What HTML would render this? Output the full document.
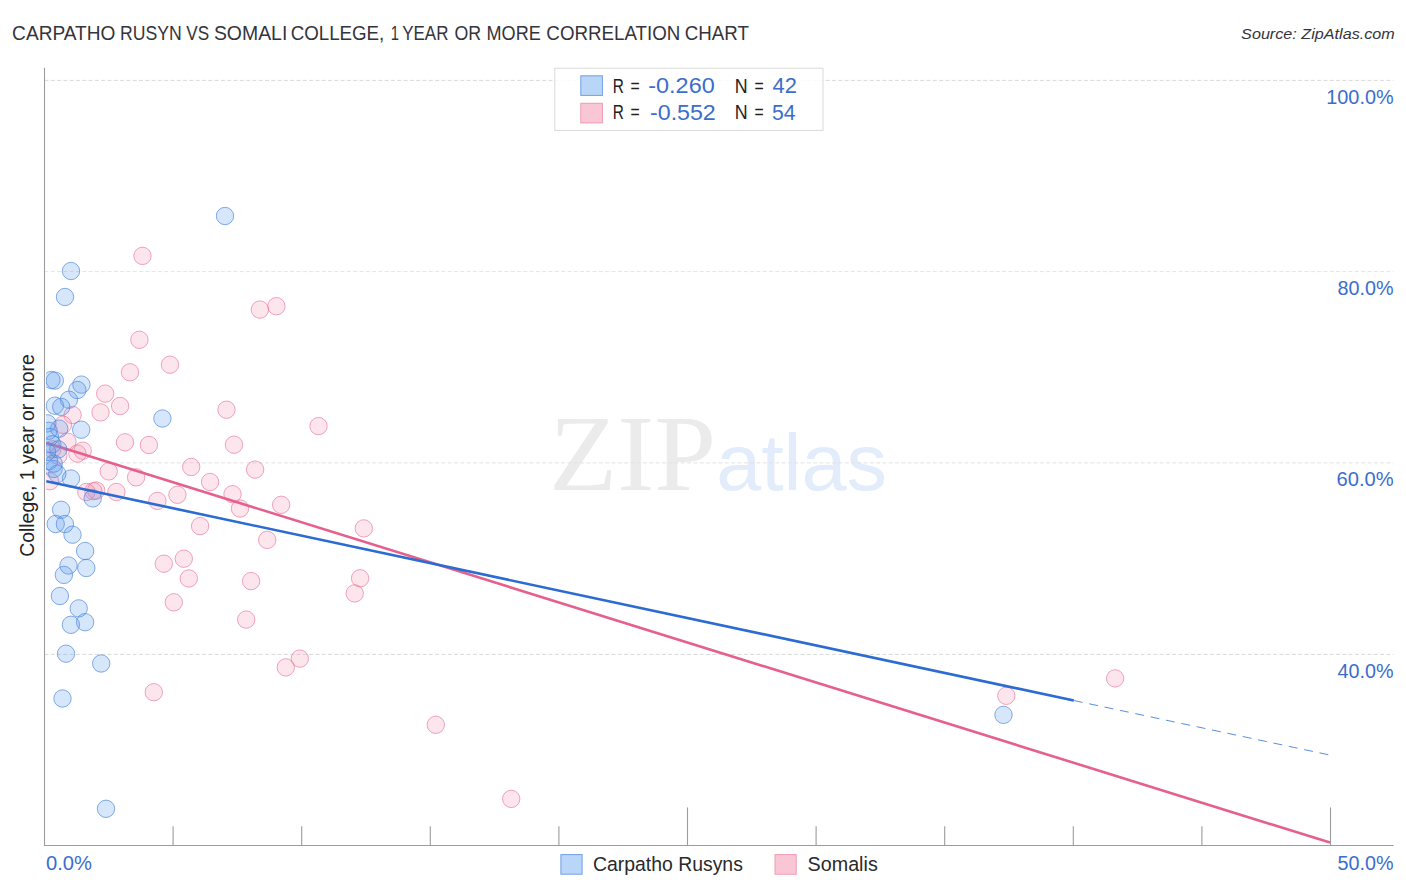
<!DOCTYPE html>
<html lang="en"><head><meta charset="utf-8"><title>Carpatho Rusyn vs Somali College, 1 year or more Correlation Chart</title>
<style>
html,body{margin:0;padding:0;background:#fff;}
body{width:1406px;height:892px;overflow:hidden;font-family:"Liberation Sans",sans-serif;}
svg{display:block;}
text{font-family:"Liberation Sans",sans-serif;}
</style></head><body>
<svg width="1406" height="892" viewBox="0 0 1406 892">
<defs><clipPath id="plot"><rect x="46" y="60" width="1348" height="786"/></clipPath></defs>
<rect width="1406" height="892" fill="#fff"/>
<g id="title">
<text transform="translate(12.12,39.8) scale(0.9750,1)" style="font-family:'Liberation Sans',sans-serif" font-size="19.6" fill="#34343c">CARPATHO</text>
<text transform="translate(120.00,39.8) scale(0.9001,1)" style="font-family:'Liberation Sans',sans-serif" font-size="19.6" fill="#34343c">RUSYN</text>
<text transform="translate(186.30,39.8) scale(0.8746,1)" style="font-family:'Liberation Sans',sans-serif" font-size="19.6" fill="#34343c">VS</text>
<text transform="translate(213.90,39.8) scale(0.9918,1)" style="font-family:'Liberation Sans',sans-serif" font-size="19.6" fill="#34343c">SOMALI</text>
<text transform="translate(290.64,39.8) scale(0.9564,1)" style="font-family:'Liberation Sans',sans-serif" font-size="19.6" fill="#34343c">COLLEGE,</text>
<text transform="translate(390.84,39.8) scale(0.7556,1)" style="font-family:'Liberation Sans',sans-serif" font-size="19.6" fill="#34343c">1</text>
<text transform="translate(402.20,39.8) scale(0.8664,1)" style="font-family:'Liberation Sans',sans-serif" font-size="19.6" fill="#34343c">YEAR</text>
<text transform="translate(454.50,39.8) scale(0.9063,1)" style="font-family:'Liberation Sans',sans-serif" font-size="19.6" fill="#34343c">OR</text>
<text transform="translate(486.58,39.8) scale(0.9218,1)" style="font-family:'Liberation Sans',sans-serif" font-size="19.6" fill="#34343c">MORE</text>
<text transform="translate(546.34,39.8) scale(0.9571,1)" style="font-family:'Liberation Sans',sans-serif" font-size="19.6" fill="#34343c">CORRELATION</text>
<text transform="translate(684.84,39.8) scale(0.9552,1)" style="font-family:'Liberation Sans',sans-serif" font-size="19.6" fill="#34343c">CHART</text>
</g>
<text transform="translate(1241.10,38.9) scale(1.0642,1)" style="font-family:'Liberation Sans',sans-serif" font-size="15.2" fill="#34343c" font-style="italic">Source: ZipAtlas.com</text>
<text transform="translate(549.25,490.4) scale(1.0305,1)" style="font-family:'Liberation Serif',serif" font-size="108" fill="#ebebeb">ZIP</text>
<text transform="translate(716.17,490.4) scale(1.0111,1)" style="font-family:'Liberation Sans',sans-serif" font-size="80" fill="#e3ecfb">atlas</text>
<line x1="44.5" y1="80.4" x2="1393.5" y2="80.4" stroke="#d9d9d9" stroke-width="1" stroke-dasharray="4 2.3"/>
<line x1="44.5" y1="271.6" x2="1393.5" y2="271.6" stroke="#e4e4e4" stroke-width="1" stroke-dasharray="4 2.3"/>
<line x1="44.5" y1="462.9" x2="1393.5" y2="462.9" stroke="#e2e2e2" stroke-width="1" stroke-dasharray="4 2.3"/>
<line x1="44.5" y1="654.4" x2="1393.5" y2="654.4" stroke="#d9d9d9" stroke-width="1" stroke-dasharray="4 2.3"/>
<line x1="44.5" y1="67.7" x2="44.5" y2="846.0" stroke="#9c9c9c" stroke-width="1.1"/>
<line x1="44.5" y1="845.5" x2="1393.5" y2="845.5" stroke="#9c9c9c" stroke-width="1.1"/>
<line x1="173.1" y1="826.2" x2="173.1" y2="845.5" stroke="#9c9c9c" stroke-width="1.1"/>
<line x1="301.7" y1="826.2" x2="301.7" y2="845.5" stroke="#9c9c9c" stroke-width="1.1"/>
<line x1="430.3" y1="826.2" x2="430.3" y2="845.5" stroke="#9c9c9c" stroke-width="1.1"/>
<line x1="558.9" y1="826.2" x2="558.9" y2="845.5" stroke="#9c9c9c" stroke-width="1.1"/>
<line x1="687.5" y1="807.4" x2="687.5" y2="845.5" stroke="#9c9c9c" stroke-width="1.1"/>
<line x1="816.1" y1="826.2" x2="816.1" y2="845.5" stroke="#9c9c9c" stroke-width="1.1"/>
<line x1="944.7" y1="826.2" x2="944.7" y2="845.5" stroke="#9c9c9c" stroke-width="1.1"/>
<line x1="1073.3" y1="826.2" x2="1073.3" y2="845.5" stroke="#9c9c9c" stroke-width="1.1"/>
<line x1="1201.9" y1="826.2" x2="1201.9" y2="845.5" stroke="#9c9c9c" stroke-width="1.1"/>
<line x1="1330.5" y1="807.4" x2="1330.5" y2="845.5" stroke="#9c9c9c" stroke-width="1.1"/>
<g clip-path="url(#plot)">
<g fill="#f48fb1" fill-opacity="0.23" stroke="#e6708f" stroke-opacity="0.62" stroke-width="1">
<circle cx="142.5" cy="255.9" r="8.7"/><circle cx="259.9" cy="309.6" r="8.7"/><circle cx="276.4" cy="306.2" r="8.7"/><circle cx="139.4" cy="339.8" r="8.7"/><circle cx="170" cy="364.7" r="8.7"/><circle cx="130" cy="372.3" r="8.7"/><circle cx="105.2" cy="393.6" r="8.7"/><circle cx="120.1" cy="406" r="8.7"/><circle cx="100.5" cy="412.4" r="8.7"/><circle cx="72.6" cy="415" r="8.7"/><circle cx="226.5" cy="409.7" r="8.7"/><circle cx="318.5" cy="426.1" r="8.7"/><circle cx="62.9" cy="424.8" r="8.7"/><circle cx="125" cy="442.3" r="8.7"/><circle cx="148.9" cy="445" r="8.7"/><circle cx="234" cy="444.7" r="8.7"/><circle cx="67.4" cy="441.7" r="8.7"/><circle cx="82.7" cy="450.7" r="8.7"/><circle cx="77.4" cy="453.6" r="8.7"/><circle cx="191.2" cy="467" r="8.7"/><circle cx="255.1" cy="469.6" r="8.7"/><circle cx="108.7" cy="471.4" r="8.7"/><circle cx="136.1" cy="477.3" r="8.7"/><circle cx="210.1" cy="482" r="8.7"/><circle cx="50" cy="481.2" r="8.7"/><circle cx="232.5" cy="494.2" r="8.7"/><circle cx="177.4" cy="494.8" r="8.7"/><circle cx="116.4" cy="492" r="8.7"/><circle cx="96.2" cy="490.5" r="8.7"/><circle cx="93.4" cy="491.2" r="8.7"/><circle cx="86.3" cy="492" r="8.7"/><circle cx="157.4" cy="500.9" r="8.7"/><circle cx="240" cy="508.5" r="8.7"/><circle cx="281.2" cy="504.8" r="8.7"/><circle cx="363.8" cy="528.4" r="8.7"/><circle cx="200.1" cy="526.1" r="8.7"/><circle cx="267.2" cy="539.9" r="8.7"/><circle cx="183.8" cy="558.7" r="8.7"/><circle cx="163.8" cy="563.7" r="8.7"/><circle cx="188.8" cy="578.5" r="8.7"/><circle cx="360.1" cy="578.3" r="8.7"/><circle cx="251.1" cy="581.1" r="8.7"/><circle cx="354.7" cy="593.4" r="8.7"/><circle cx="173.8" cy="602.3" r="8.7"/><circle cx="246.2" cy="619.6" r="8.7"/><circle cx="299.8" cy="658.6" r="8.7"/><circle cx="285.8" cy="667.4" r="8.7"/><circle cx="153.8" cy="692.2" r="8.7"/><circle cx="435.8" cy="724.8" r="8.7"/><circle cx="511.2" cy="798.9" r="8.7"/><circle cx="1006.3" cy="695.8" r="8.7"/><circle cx="1115.1" cy="678.4" r="8.7"/><circle cx="58.3" cy="455.7" r="8.7"/><circle cx="52.3" cy="449.3" r="8.7"/>
</g>
<line x1="46.3" y1="442.8" x2="1330" y2="842.6" stroke="#e5608c" stroke-width="2.6"/>
<g fill="#5b9cf0" fill-opacity="0.25" stroke="#4a82d8" stroke-opacity="0.66" stroke-width="1">
<circle cx="225" cy="216" r="8.7"/><circle cx="71" cy="271" r="8.7"/><circle cx="65" cy="297" r="8.7"/><circle cx="51.4" cy="380" r="8.7"/><circle cx="54.8" cy="380.6" r="8.7"/><circle cx="81.4" cy="384.6" r="8.7"/><circle cx="77.4" cy="390" r="8.7"/><circle cx="68.9" cy="399.7" r="8.7"/><circle cx="54.9" cy="405.7" r="8.7"/><circle cx="61.2" cy="406.9" r="8.7"/><circle cx="162.4" cy="418.5" r="8.7"/><circle cx="81.2" cy="429.7" r="8.7"/><circle cx="59.2" cy="428.6" r="8.7"/><circle cx="71" cy="478.5" r="8.7"/><circle cx="92.7" cy="498.4" r="8.7"/><circle cx="61.1" cy="509.8" r="8.7"/><circle cx="55.7" cy="524" r="8.7"/><circle cx="64.9" cy="524" r="8.7"/><circle cx="72.5" cy="534.7" r="8.7"/><circle cx="85.1" cy="551" r="8.7"/><circle cx="68.5" cy="565.5" r="8.7"/><circle cx="86.3" cy="568" r="8.7"/><circle cx="63.9" cy="574.9" r="8.7"/><circle cx="59.9" cy="596" r="8.7"/><circle cx="78.7" cy="608.4" r="8.7"/><circle cx="85.1" cy="622.2" r="8.7"/><circle cx="70.9" cy="624.8" r="8.7"/><circle cx="66.0" cy="653.7" r="8.7"/><circle cx="101.2" cy="663.5" r="8.7"/><circle cx="62.5" cy="698.5" r="8.7"/><circle cx="106" cy="808.8" r="8.7"/><circle cx="1003.5" cy="714.9" r="8.7"/><circle cx="48.6" cy="430.8" r="8.7"/><circle cx="47.4" cy="423.4" r="8.7"/><circle cx="50" cy="437" r="8.7"/><circle cx="52.3" cy="444.3" r="8.7"/><circle cx="58.3" cy="449.4" r="8.7"/><circle cx="49" cy="461" r="8.7"/><circle cx="53.6" cy="469" r="8.7"/><circle cx="57.3" cy="473.9" r="8.7"/><circle cx="53.7" cy="463.6" r="8.7"/><circle cx="47" cy="452" r="8.7"/>
</g>
<line x1="46.3" y1="481.2" x2="1073.8" y2="700.5" stroke="#2b6bd2" stroke-width="2.6"/>
<line x1="1073.8" y1="700.5" x2="1328.6" y2="754.8" stroke="#5a8fe0" stroke-width="1" stroke-dasharray="9 6.7"/>
</g>
<text transform="translate(1326.29,103.7) scale(1.0133,1)" style="font-family:'Liberation Sans',sans-serif" font-size="19.6" fill="#3b6dcc">100.0%</text>
<text transform="translate(1337.60,294.9) scale(1.0084,1)" style="font-family:'Liberation Sans',sans-serif" font-size="19.6" fill="#3b6dcc">80.0%</text>
<text transform="translate(1336.57,486.2) scale(1.0271,1)" style="font-family:'Liberation Sans',sans-serif" font-size="19.6" fill="#3b6dcc">60.0%</text>
<text transform="translate(1337.60,677.7) scale(1.0084,1)" style="font-family:'Liberation Sans',sans-serif" font-size="19.6" fill="#3b6dcc">40.0%</text>
<text transform="translate(45.90,869.7) scale(1.0308,1)" style="font-family:'Liberation Sans',sans-serif" font-size="19.6" fill="#3b6dcc">0.0%</text>
<text transform="translate(1337.60,869.7) scale(1.0084,1)" style="font-family:'Liberation Sans',sans-serif" font-size="19.6" fill="#3b6dcc">50.0%</text>
<text transform="translate(34.2,556.8) rotate(-90)" font-size="19.4" fill="#222" id="ylab">College, 1 year or more</text>
<rect x="554.8" y="68.2" width="268.2" height="62.2" fill="#fff" fill-opacity="0.85" stroke="#d9d9d9" stroke-width="1"/>
<rect x="580.8" y="75.8" width="21.6" height="19.6" fill="#b9d5f8" stroke="#6fa0e4" stroke-width="1"/>
<rect x="580.8" y="103.3" width="21.6" height="19.6" fill="#f9c6d6" stroke="#f19ab6" stroke-width="1"/>
<text transform="translate(612.72,93.0) scale(0.7769,1)" style="font-family:'Liberation Sans',sans-serif" font-size="19.8" fill="#222">R</text>
<text transform="translate(630.40,93.0) scale(0.8000,1)" style="font-family:'Liberation Sans',sans-serif" font-size="19.8" fill="#222">=</text>
<text transform="translate(648.30,93.3) scale(1.0945,1)" style="font-family:'Liberation Sans',sans-serif" font-size="21.4" fill="#3b6dcc">-0.260</text>
<text transform="translate(734.70,93.0) scale(0.9000,1)" style="font-family:'Liberation Sans',sans-serif" font-size="19.8" fill="#222">N</text>
<text transform="translate(754.60,93.0) scale(0.8000,1)" style="font-family:'Liberation Sans',sans-serif" font-size="19.8" fill="#222">=</text>
<text transform="translate(772.60,93.3) scale(1.0220,1)" style="font-family:'Liberation Sans',sans-serif" font-size="21.4" fill="#3b6dcc">42</text>
<text transform="translate(612.72,119.4) scale(0.7769,1)" style="font-family:'Liberation Sans',sans-serif" font-size="19.8" fill="#222">R</text>
<text transform="translate(630.40,119.4) scale(0.8000,1)" style="font-family:'Liberation Sans',sans-serif" font-size="19.8" fill="#222">=</text>
<text transform="translate(650.00,119.7) scale(1.0844,1)" style="font-family:'Liberation Sans',sans-serif" font-size="21.4" fill="#3b6dcc">-0.552</text>
<text transform="translate(734.70,119.4) scale(0.9000,1)" style="font-family:'Liberation Sans',sans-serif" font-size="19.8" fill="#222">N</text>
<text transform="translate(754.60,119.4) scale(0.8000,1)" style="font-family:'Liberation Sans',sans-serif" font-size="19.8" fill="#222">=</text>
<text transform="translate(771.90,119.7) scale(0.9918,1)" style="font-family:'Liberation Sans',sans-serif" font-size="21.4" fill="#3b6dcc">54</text>
<rect x="560.9" y="854.6" width="21.2" height="19.6" fill="#b9d5f8" stroke="#6fa0e4" stroke-width="1"/>
<text transform="translate(593.00,870.9) scale(0.9953,1)" style="font-family:'Liberation Sans',sans-serif" font-size="19.5" fill="#2a2a2a">Carpatho Rusyns</text>
<rect x="775" y="854.6" width="21.2" height="19.6" fill="#f9c6d6" stroke="#f19ab6" stroke-width="1"/>
<text transform="translate(807.60,870.9) scale(1.0114,1)" style="font-family:'Liberation Sans',sans-serif" font-size="19.5" fill="#2a2a2a">Somalis</text>
</svg>
</body></html>
